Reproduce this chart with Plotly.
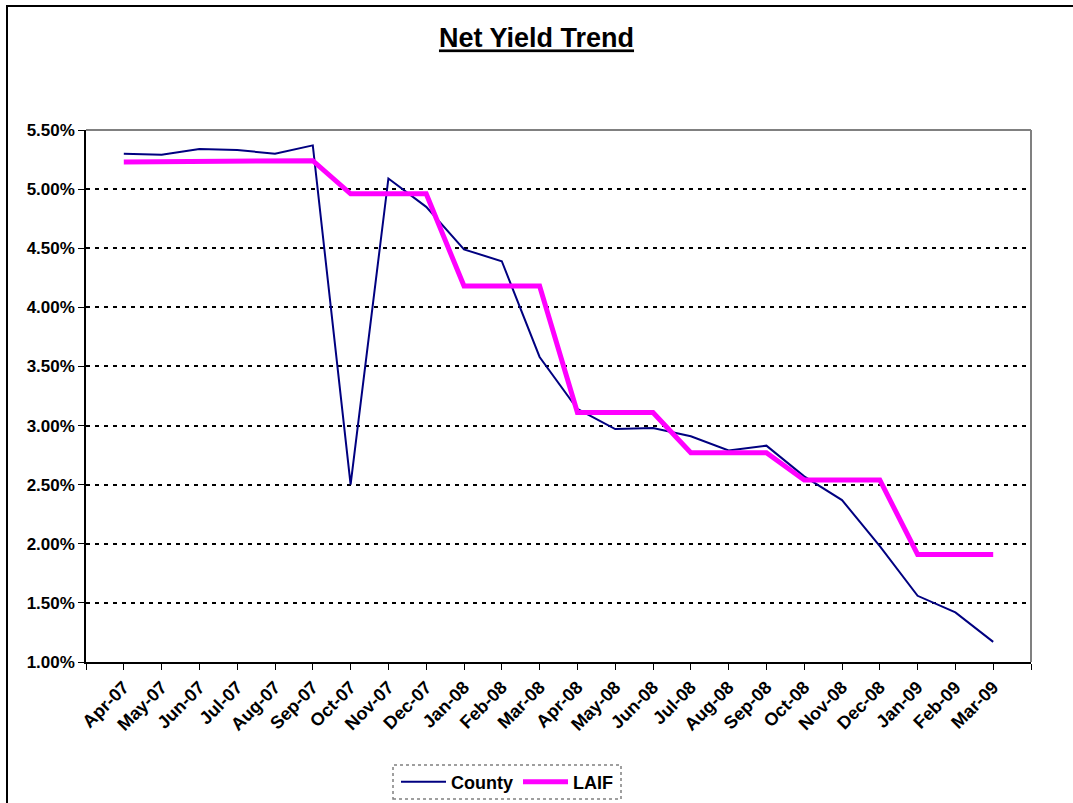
import plotly.graph_objects as go

months = ["Apr-07", "May-07", "Jun-07", "Jul-07", "Aug-07", "Sep-07", "Oct-07", "Nov-07",
          "Dec-07", "Jan-08", "Feb-08", "Mar-08", "Apr-08", "May-08", "Jun-08", "Jul-08",
          "Aug-08", "Sep-08", "Oct-08", "Nov-08", "Dec-08", "Jan-09", "Feb-09", "Mar-09"]
county = [5.30, 5.29, 5.34, 5.33, 5.30, 5.37, 2.50, 5.09, 4.85, 4.49, 4.39, 3.58,
          3.14, 2.97, 2.98, 2.91, 2.79, 2.83, 2.57, 2.37, 1.98, 1.56, 1.42, 1.17]
laif = [5.23, 5.23, 5.23, 5.24, 5.24, 5.24, 4.96, 4.96, 4.96, 4.18, 4.18, 4.18,
        3.11, 3.11, 3.11, 2.77, 2.77, 2.77, 2.54, 2.54, 2.54, 1.91, 1.91, 1.91]
y_ticks = [1.0, 1.5, 2.0, 2.5, 3.0, 3.5, 4.0, 4.5, 5.0, 5.5]

FONT = "Liberation Sans, Arial, sans-serif"
W, H = 1073, 803
ML, MR, MT, MB = 86, 42, 130, 141
PW, PH = W - ML - MR, H - MT - MB

def px_x(p):
    return (p - ML) / PW

def px_y(p):
    return (H - MB - p) / PH

xs = list(range(len(months)))

fig = go.Figure()
fig.add_trace(go.Scatter(x=xs, y=county, name="County", mode="lines",
                         line=dict(color="#000080", width=2)))
fig.add_trace(go.Scatter(x=xs, y=laif, name="LAIF", mode="lines",
                         line=dict(color="#FF00FF", width=5)))

tickvals = [-1] + xs + [len(months)]
ticktext = [""] + months + [""]

fig.update_layout(
    width=W, height=H,
    margin=dict(l=ML, r=MR, t=MT, b=MB, autoexpand=False),
    paper_bgcolor="white", plot_bgcolor="white",
    font=dict(family=FONT, color="black"),
    title=dict(text="<b><u>Net Yield Trend</u></b>", x=0.5, xanchor="center",
               y=1 - 38 / H, yref="container", yanchor="middle",
               font=dict(size=27, family=FONT, color="black")),
    showlegend=True,
    legend=dict(orientation="h", x=px_x(507), xanchor="center",
                y=px_y(782), yanchor="middle", bgcolor="rgba(0,0,0,0)",
                borderwidth=0, font=dict(size=18, family=FONT, weight="bold"),
                itemwidth=45, tracegroupgap=0),
    xaxis=dict(range=[-1, len(months)], tickmode="array", tickvals=tickvals,
               ticktext=ticktext, tickangle=-45, showgrid=False, zeroline=False,
               showline=True, linecolor="black", linewidth=1.5,
               ticks="outside", ticklen=6, tickcolor="black", tickwidth=1,
               tickfont=dict(size=18, family=FONT, weight="bold")),
    yaxis=dict(range=[1.0, 5.5], tickmode="array", tickvals=y_ticks,
               ticktext=[f"{v:.2f}%" for v in y_ticks], showgrid=True,
               gridcolor="black", gridwidth=2, griddash="4px,5px",
               zeroline=False, showline=True, linecolor="black", linewidth=1.5,
               ticks="outside", ticklen=6, tickcolor="black", tickwidth=1,
               tickfont=dict(size=17, family=FONT, weight="bold")),
    shapes=[
        # plot area border (top and right), gray
        dict(type="line", xref="paper", yref="paper", x0=0, x1=1, y0=1, y1=1,
             line=dict(color="#808080", width=2), layer="below"),
        dict(type="line", xref="paper", yref="paper", x0=1, x1=1, y0=0, y1=1,
             line=dict(color="#808080", width=2), layer="below"),
        # outer chart border
        dict(type="rect", xref="paper", yref="paper",
             x0=px_x(7), x1=px_x(1090), y0=px_y(820), y1=px_y(6),
             line=dict(color="black", width=2), fillcolor="rgba(0,0,0,0)"),
        # legend box
        dict(type="rect", xref="paper", yref="paper",
             x0=px_x(393), x1=px_x(621), y0=px_y(799), y1=px_y(765),
             line=dict(color="#808080", width=1.5, dash="dot"),
             fillcolor="rgba(0,0,0,0)"),
    ],
)

fig.write_html("out.html",
               config={"displayModeBar": False},
               post_script="document.body.style.margin='0';document.body.style.overflow='hidden';")
